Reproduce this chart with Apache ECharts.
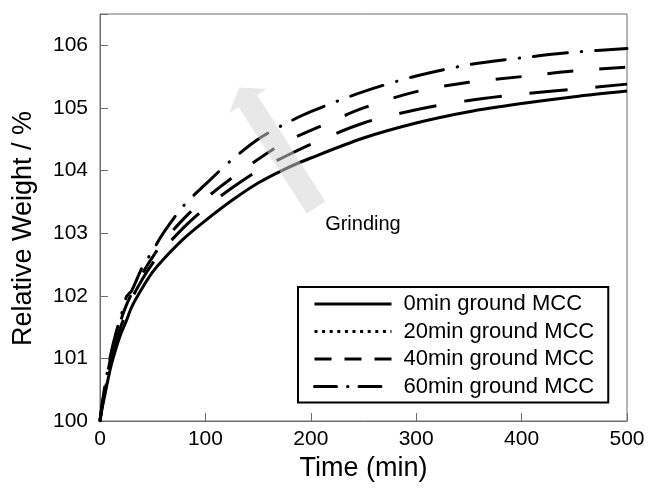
<!DOCTYPE html>
<html>
<head>
<meta charset="utf-8">
<script src="https://cdn.jsdelivr.net/npm/echarts@6/dist/echarts.min.js"></script>
<style>
html,body{margin:0;padding:0;background:#fff;}
#chart{width:649px;height:488px;}
</style>
</head>
<body>
<div id="chart"></div>
<script>
// Time axis (min)
const times = [0, 2, 5, 10, 15, 20, 25, 30, 40, 50, 60, 80, 100, 125, 150, 175, 200, 250, 300, 350, 400, 450, 500];
// Relative weight (%) per grinding time
const w0min  = [100, 100.20, 100.45, 100.85, 101.15, 101.40, 101.60, 101.82, 102.12, 102.38, 102.58, 102.92, 103.20, 103.52, 103.80, 104.02, 104.20, 104.52, 104.76, 104.94, 105.07, 105.18, 105.27];
const w20min = [100, 100.23, 100.50, 100.93, 101.25, 101.52, 101.73, 101.95, 102.26, 102.52, 102.74, 103.10, 103.40, 103.72, 104.00, 104.22, 104.42, 104.76, 104.97, 105.12, 105.22, 105.30, 105.38];
const w40min = [100, 100.25, 100.55, 101.00, 101.33, 101.62, 101.85, 102.03, 102.35, 102.62, 102.86, 103.24, 103.55, 103.88, 104.18, 104.45, 104.64, 105.00, 105.26, 105.41, 105.50, 105.59, 105.65];
const w60min = [100, 100.27, 100.60, 101.05, 101.40, 101.68, 101.98, 102.08, 102.45, 102.72, 103.00, 103.45, 103.78, 104.17, 104.50, 104.74, 104.94, 105.26, 105.51, 105.69, 105.80, 105.89, 105.95];
const seriesNames = ['0min ground MCC', '20min ground MCC', '40min ground MCC', '60min ground MCC'];
const xTicks = [0, 100, 200, 300, 400, 500];
const yTicks = [100, 101, 102, 103, 104, 105, 106];

const FONT = 'Liberation Sans, Arial, sans-serif';
const AXC = '#6e6e6e';
const chart = echarts.init(document.getElementById('chart'), null, {renderer: 'canvas'});

function pairs(arr) { return times.map((t, i) => [t, arr[i]]); }

const lineStyles = [
  {color: '#000', width: 3, type: 'solid'},
  {color: '#000', width: 3, type: [38, 28], cap: 'butt'},
  {color: '#000', width: 3, type: [26, 26], cap: 'butt'},
  {color: '#000', width: 3, type: [34, 14, 0.5, 14], cap: 'round'}
];
const legendLineStyles = [
  {color: '#000', width: 3, type: 'solid'},
  {color: '#000', width: 3, type: [3, 4.6], cap: 'butt'},
  {color: '#000', width: 3, type: [17, 13], cap: 'butt'},
  {color: '#000', width: 3, type: [22, 11, 0.5, 11], cap: 'round'}
];
const dataArrays = [w0min, w20min, w40min, w60min];

const option = {
  animation: false,
  backgroundColor: '#fff',
  grid: {left: 100, right: 22, top: 14, bottom: 67, show: true, borderColor: AXC, borderWidth: 1, backgroundColor: 'transparent'},
  xAxis: {
    type: 'value', min: 0, max: 500, interval: 100,
    name: 'Time (min)', nameLocation: 'middle', nameGap: 31,
    nameTextStyle: {fontSize: 27, color: '#000', fontFamily: FONT},
    axisLine: {show: true, onZero: false, lineStyle: {color: AXC, width: 1}},
    axisTick: {show: true, inside: true, length: 8, lineStyle: {color: AXC}},
    axisLabel: {fontSize: 21, color: '#000', fontFamily: FONT, margin: 8,
      formatter: v => xTicks.includes(v) ? String(v) : ''},
    splitLine: {show: false}
  },
  yAxis: {
    type: 'value', min: 100, max: 106.5, interval: 1,
    name: 'Relative Weight / %', nameLocation: 'middle', nameGap: 63, nameRotate: 90,
    nameTextStyle: {fontSize: 27, color: '#000', fontFamily: FONT, padding: [0, 22, 0, 0]},
    axisLine: {show: true, onZero: false, lineStyle: {color: AXC, width: 1}},
    axisTick: {show: true, inside: true, length: 8, lineStyle: {color: AXC}},
    axisLabel: {fontSize: 21, color: '#000', fontFamily: FONT, margin: 12,
      formatter: v => yTicks.includes(v) ? String(v) : ''},
    splitLine: {show: false}
  },
  legend: {
    orient: 'vertical', left: 298, top: 287,
    padding: [6, 14, 5, 15],
    itemWidth: 77, itemHeight: 14, itemGap: 5.5,
    backgroundColor: '#fff', borderColor: '#000', borderWidth: 2, borderRadius: 0,
    textStyle: {fontSize: 22, color: '#000', fontFamily: FONT, lineHeight: 21, padding: [0, 0, 0, 7]},
    data: seriesNames.map((n, i) => ({
      name: n, lineStyle: legendLineStyles[i],
      itemStyle: {color: 'rgba(0,0,0,0)', borderWidth: 0, opacity: 0}
    })),
    selectedMode: false
  },
  series: seriesNames.map((n, i) => ({
    name: n, type: 'line', data: pairs(dataArrays[i]),
    symbol: 'none', showSymbol: false, smooth: 0.3,
    itemStyle: {color: '#000'},
    lineStyle: lineStyles[i], z: 2 + i
  }))
};
chart.setOption(option);

// Annotation arrow "Grinding" anchored in data coordinates
function drawArrow() {
  const T = chart.convertToPixel({gridIndex: 0}, [205, 103.41]);
  const B = chart.convertToPixel({gridIndex: 0}, [140.3, 105.11]);
  const dx = B[0] - T[0], dy = B[1] - T[1];
  const L = Math.hypot(dx, dy);
  const u = [dx / L, dy / L];
  const n = [-u[1], u[0]];
  const hw = 11, hh = 22.5, hl = 16;
  const p = (P, k, m) => [P[0] + n[0] * k + u[0] * m, P[1] + n[1] * k + u[1] * m];
  const pts = [
    p(T, -hw, 0), p(B, -hw, 0), p(B, -hh, 0), p(B, 0, hl), p(B, hh, 0), p(B, hw, 0), p(T, hw, 0)
  ];
  const txt = chart.convertToPixel({gridIndex: 0}, [213.6, 103.14]);
  chart.setOption({
    graphic: [
      {type: 'polygon', shape: {points: pts}, style: {fill: 'rgba(211,211,211,0.52)'}, z: 100, silent: true},
      {type: 'text', x: txt[0], y: txt[1], style: {text: 'Grinding', fill: '#000', font: '20px Liberation Sans, Arial, sans-serif', verticalAlign: 'middle', align: 'left'}, z: 101, silent: true}
    ]
  });
}
drawArrow();
</script>
</body>
</html>
